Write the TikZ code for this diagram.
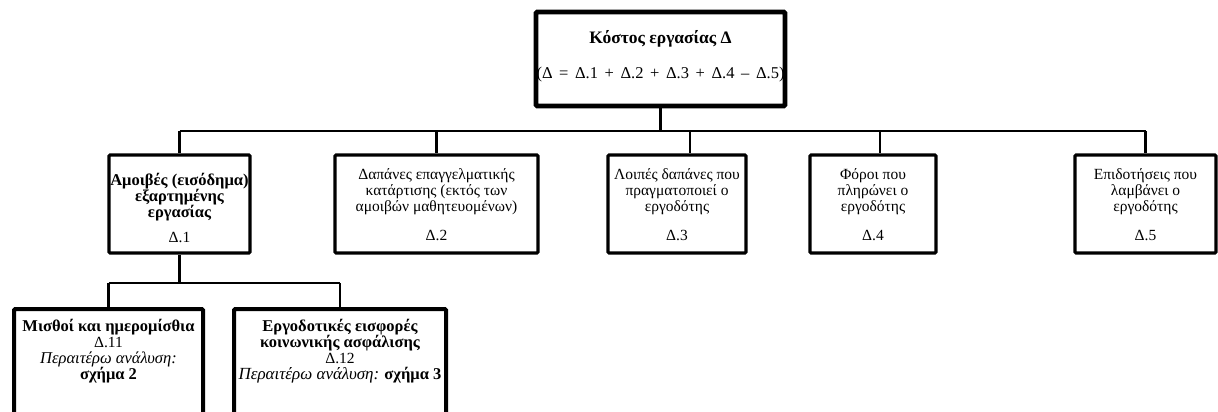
\documentclass[tikz,border=0pt]{standalone}
\usepackage{fontspec}
\setmainfont{Liberation Serif}
\newcommand\fgap{\hspace{6.6pt}}
\newcommand\fst{\rule{0pt}{11.5pt}}
\newcommand\bfb[1]{{\fontsize{16.5}{16}\selectfont\bfseries #1}}
\begin{document}
\begin{tikzpicture}[x=1pt,y=-1pt,
  box/.style={draw, line width=3.2pt, rounded corners=1.2pt, inner sep=0pt},
  topbox/.style={box, line width=4.6pt},
  lowbox/.style={box, line width=4pt},
  conn/.style={line width=2.6pt},
  txt/.style={align=center, inner sep=0pt, anchor=north, font=\fontsize{15.5}{16}\selectfont}]
\useasboundingbox (0,0) rectangle (1218,412);
% boxes
\node[topbox, minimum width=249pt, minimum height=94pt] (top) at (660.5,59) {};
\node[box, minimum width=141pt, minimum height=98pt] (b1) at (179.5,204) {};
\node[box, minimum width=203pt, minimum height=98pt] (b2) at (436.5,204) {};
\node[box, minimum width=138pt, minimum height=98pt] (b3) at (677,204) {};
\node[box, minimum width=126pt, minimum height=98pt] (b4) at (873,204) {};
\node[box, minimum width=141pt, minimum height=98pt] (b5) at (1145.5,204) {};
\node[lowbox, minimum width=189pt, minimum height=130pt] (b11) at (108.5,374) {};
\node[lowbox, minimum width=212pt, minimum height=130pt] (b12) at (340,374) {};
% texts
\node[txt] (t0) at (660.5,30.5) {\fst{\fontsize{17.5}{16}\selectfont\bfseries Κόστος εργασίας Δ}\\[19pt]
  {\fontsize{16.5}{16}\selectfont(Δ\fgap=\fgap Δ.1\fgap+\fgap Δ.2\fgap+\fgap Δ.3\fgap+\fgap Δ.4\fgap–\fgap Δ.5)}};
\node[txt] (t1) at (179.5,173.5) {\fst\bfb{Αμοιβές\ (εισόδημα)}\\\bfb{εξαρτημένης}\\\bfb{εργασίας}\\[9pt]Δ.1};
\node[txt] (t2) at (436.5,167.5) {\fst Δαπάνες επαγγελματικής\\κατάρτισης (εκτός των\\αμοιβών μαθητευομένων)\\[13pt]Δ.2};
\node[txt] (t3) at (677,167.5) {\fst Λοιπές δαπάνες που\\πραγματοποιεί ο\\εργοδότης\\[13pt]Δ.3};
\node[txt] (t4) at (873,167.5) {\fst Φόροι που\\πληρώνει ο\\εργοδότης\\[13pt]Δ.4};
\node[txt] (t5) at (1145.5,167.5) {\fst Επιδοτήσεις που\\λαμβάνει ο\\εργοδότης\\[13pt]Δ.5};
\node[txt] (t11) at (108.5,319.5) {\fst\bfb{Μισθοί και ημερομίσθια}\\Δ.11\\{\fontsize{16.5}{16}\selectfont\itshape Περαιτέρω ανάλυση:}\\\bfb{σχήμα 2}};
\node[txt] (t12) at (340,319.5) {\fst\bfb{Εργοδοτικές εισφορές}\\\bfb{κοινωνικής ασφάλισης}\\Δ.12\\{\fontsize{17}{16}\selectfont\itshape Περαιτέρω\ ανάλυση:} \bfb{σχήμα 3}};
% bus coordinates
\coordinate (bus) at (0,131);
\coordinate (bus2) at (0,283);
\coordinate (c3) at (690,131);
\coordinate (c4) at (880,131);
% connectors
\draw[conn] (top.south) -- (top.south |- bus);
\draw[conn] (b1.north |- bus) -- (b5.north |- bus);
\draw[conn] (b1.north |- bus) -- (b1.north);
\draw[conn] (b2.north |- bus) -- (b2.north);
\draw[conn] (c3) -- (c3 |- b3.north);
\draw[conn] (c4) -- (c4 |- b4.north);
\draw[conn] (b5.north |- bus) -- (b5.north);
\draw[conn] (b1.south) -- (b1.south |- bus2);
\draw[conn] (b11.north |- bus2) -- (b12.north |- bus2);
\draw[conn] (b11.north |- bus2) -- (b11.north);
\draw[conn] (b12.north |- bus2) -- (b12.north);
\end{tikzpicture}
\end{document}
